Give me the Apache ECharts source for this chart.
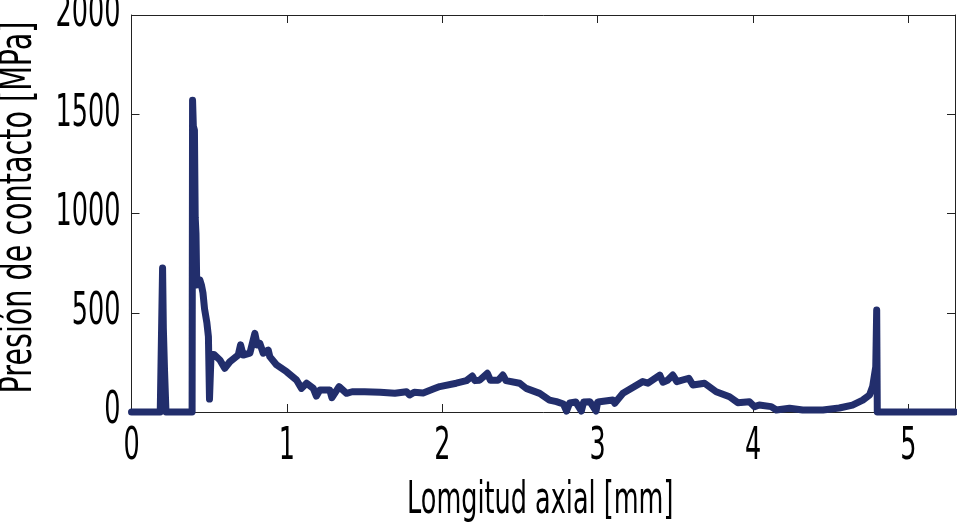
<!DOCTYPE html>
<html>
<head>
<meta charset="utf-8">
<script src="https://cdn.jsdelivr.net/npm/echarts@6/dist/echarts.min.js"></script>
<style>
  html, body { margin: 0; padding: 0; background: #fff; }
  #main { width: 957px; height: 524px; }
</style>
</head>
<body>
<div id="main"></div>
<script>
// datos: [longitud axial (mm), presion (MPa)]
var picosIniciales = [
  [0, 0], [0.185, 0], [0.195, 0], [0.2, 725], [0.205, 420], [0.213, 200], [0.222, 0],
  [0.39, 0], [0.393, 1570], [0.398, 1440], [0.405, 1420], [0.41, 980], [0.415, 900],
  [0.42, 640], [0.44, 665], [0.45, 640], [0.46, 600], [0.47, 520], [0.485, 450],
  [0.495, 380], [0.502, 65], [0.512, 290]
];
var tramoInicial = [
  [0.53, 290], [0.569, 262], [0.6, 220], [0.633, 253], [0.687, 287], [0.702, 338],
  [0.719, 287], [0.762, 297], [0.794, 396], [0.809, 338], [0.826, 346], [0.848, 296],
  [0.88, 312], [0.89, 279], [0.934, 237], [0.998, 203], [1.062, 161], [1.094, 119],
  [1.127, 145], [1.17, 119], [1.19, 80], [1.212, 111], [1.276, 111], [1.29, 72],
  [1.336, 128], [1.384, 94], [1.394, 86]
];
var tramoCentral = [
  [1.42, 102], [1.5, 102], [1.6, 100], [1.695, 94], [1.77, 102], [1.79, 86], [1.82, 100],
  [1.877, 96], [1.95, 118], [1.984, 128], [2.09, 145], [2.156, 158], [2.194, 181],
  [2.21, 158], [2.24, 160], [2.29, 195], [2.31, 160], [2.36, 160], [2.39, 186],
  [2.41, 158], [2.498, 145], [2.54, 119], [2.627, 94], [2.69, 60], [2.735, 52],
  [2.78, 40], [2.8, 5], [2.82, 45], [2.86, 50], [2.895, 5], [2.91, 50], [2.95, 52],
  [2.99, 5], [3.0, 50], [3.013, 52]
];
var tramoFinal = [
  [3.098, 60], [3.11, 44], [3.163, 94], [3.29, 153], [3.324, 145], [3.4, 186],
  [3.42, 150], [3.45, 160], [3.484, 186], [3.51, 153], [3.587, 170], [3.613, 136],
  [3.688, 145], [3.763, 102], [3.849, 77], [3.902, 47], [3.977, 52], [4.01, 27],
  [4.04, 35], [4.117, 27], [4.15, 10], [4.235, 19], [4.32, 10], [4.45, 10],
  [4.555, 20], [4.64, 35], [4.706, 60], [4.75, 86], [4.77, 128], [4.79, 228],
  [4.796, 514], [4.8, 0], [5.3, 0]
];
var ticksX = [0, 1, 2, 3, 4, 5];
var ticksY = [0, 500, 1000, 1500, 2000];
var tituloX = 'Lomgitud axial [mm]';
var tituloY = 'Presión de contacto [MPa]';

var datos = picosIniciales.concat(tramoInicial, tramoCentral, tramoFinal);

// la fuente original es muy estrecha: se imita escalando el texto en horizontal
var fuente = "44px 'DejaVu Sans'";
var estrechez = 0.58;
var colorEje = '#222';

function ejeX(pos) {
  return {
    type: 'value', position: pos, min: 0, max: 5.3, interval: 1,
    axisLine: { onZero: false, lineStyle: { color: colorEje, width: 1 } },
    axisTick: { inside: true, length: 8, lineStyle: { color: colorEje } },
    splitLine: { show: false },
    axisLabel: { show: false }
  };
}
function ejeY(pos) {
  return {
    type: 'value', position: pos, min: 0, max: 2000, interval: 500,
    axisLine: { onZero: false, lineStyle: { color: colorEje, width: 1 } },
    axisTick: { inside: true, length: 8, lineStyle: { color: colorEje } },
    splitLine: { show: false },
    axisLabel: { show: false }
  };
}

var grafico = echarts.init(document.getElementById('main'));
grafico.setOption({
  animation: false,
  backgroundColor: '#fff',
  grid: { left: 131.5, right: 2, top: 15, bottom: 112, outerBoundsMode: 'none' },
  xAxis: [ejeX('bottom'), ejeX('top')],
  yAxis: [ejeY('left'), ejeY('right')],
  series: [{
    type: 'line',
    data: datos,
    showSymbol: false,
    clip: false,
    lineStyle: { color: '#222e6c', width: 7, cap: 'round', join: 'round' }
  }]
});

function texto(x, y, s, align, vAlign, rot, escala) {
  return {
    type: 'text', x: x, y: y, rotation: rot || 0, scaleX: escala || estrechez, silent: true,
    style: { text: s, font: fuente, fill: '#000', align: align, verticalAlign: vAlign }
  };
}

var rotulos = [];
var ejeBase = grafico.convertToPixel({ yAxisIndex: 0 }, 0);
var ejeIzq = grafico.convertToPixel({ xAxisIndex: 0 }, 0);
ticksX.forEach(function (v) {
  rotulos.push(texto(grafico.convertToPixel({ xAxisIndex: 0 }, v), ejeBase + 36, String(v), 'center', 'middle'));
});
ticksY.forEach(function (v) {
  rotulos.push(texto(ejeIzq - 11, grafico.convertToPixel({ yAxisIndex: 0 }, v), String(v), 'right', 'middle'));
});
var centroX = (grafico.convertToPixel({ xAxisIndex: 0 }, 0) + grafico.convertToPixel({ xAxisIndex: 0 }, 5.3)) / 2;
var centroY = (grafico.convertToPixel({ yAxisIndex: 0 }, 0) + grafico.convertToPixel({ yAxisIndex: 0 }, 2000)) / 2;
rotulos.push(texto(centroX - 3, ejeBase + 90, tituloX, 'center', 'middle'));
rotulos.push(texto(ejeIzq - 112, centroY - 6, tituloY, 'center', 'middle', Math.PI / 2, 0.65));

grafico.setOption({ graphic: rotulos });
</script>
</body>
</html>
